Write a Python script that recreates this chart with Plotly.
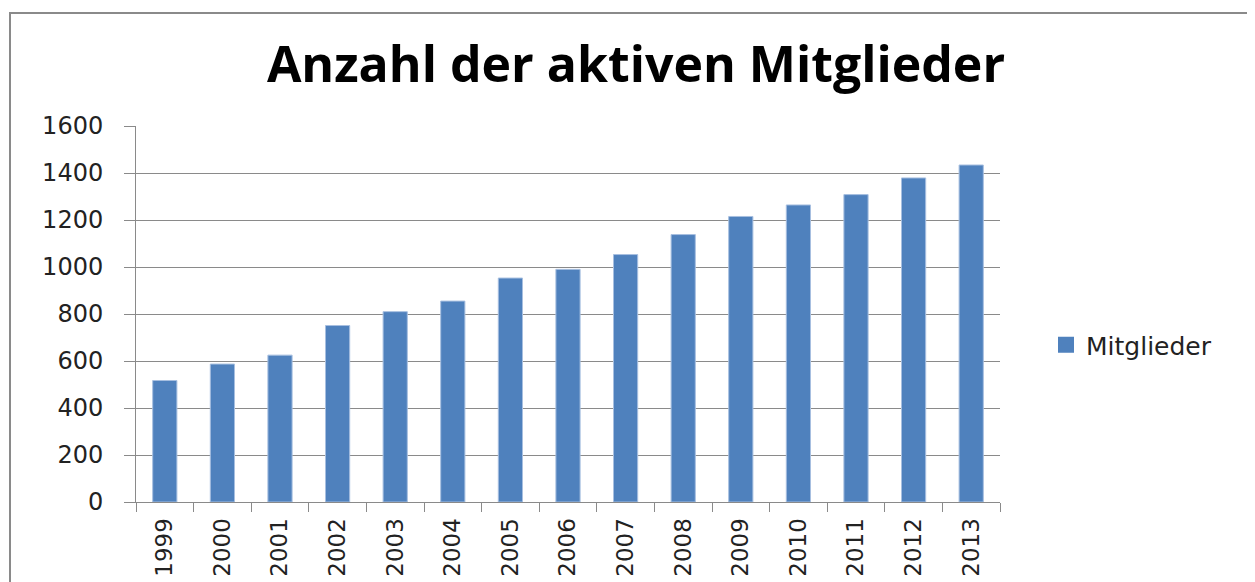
import plotly.graph_objects as go

years = ["1999", "2000", "2001", "2002", "2003", "2004", "2005", "2006",
         "2007", "2008", "2009", "2010", "2011", "2012", "2013"]
mitglieder = [517, 587, 625, 751, 810, 855, 953, 990, 1053, 1138, 1215, 1264, 1308, 1379, 1434]
y_ticks = [0, 200, 400, 600, 800, 1000, 1200, 1400, 1600]

OFF = 8  # page body margin
W, H = 1255 - OFF, 582 - OFF
L, R, T, B = 136 - OFF, 255, 126 - OFF, 80
pw, ph = W - L - R, H - T - B


def px(x):
    return (x - OFF - L) / pw


def py(y):
    return (H - B - (y - OFF)) / ph


fig = go.Figure()
fig.add_trace(go.Bar(
    x=years, y=mitglieder, name="Mitglieder", showlegend=False,
    marker=dict(color="#4F81BD", line=dict(color="#A7BFE0", width=1)),
))
fig.add_trace(go.Scatter(
    x=[None], y=[None], mode="markers", name="Mitglieder",
    marker=dict(symbol="square", size=18, color="#4F81BD"),
))

fig.update_layout(
    width=W, height=H,
    margin=dict(l=L, r=R, t=T, b=B, autoexpand=False),
    paper_bgcolor="white", plot_bgcolor="white",
    bargap=0.58,
    showlegend=True,
    title=dict(text="<b>Anzahl der aktiven Mitglieder</b>", x=(636 - OFF) / W, xref="container",
               xanchor="center", y=1 - (64 - OFF) / H, yref="container", yanchor="middle",
               font=dict(family="Open Sans", size=50, color="black")),
    legend=dict(x=px(1046), y=py(345), xanchor="left", yanchor="middle",
                font=dict(family="DejaVu Sans", size=25, color="#222"),
                bgcolor="rgba(0,0,0,0)", itemwidth=30),
    font=dict(family="DejaVu Sans", size=22, color="#222"),
    shapes=[dict(type="rect", xref="paper", yref="paper",
                 x0=px(10), x1=px(1270), y0=py(600), y1=py(13),
                 line=dict(color="#8a8a8a", width=2), fillcolor="rgba(0,0,0,0)", layer="below")],
)

fig.update_yaxes(range=[0, 1600], tickvals=y_ticks, showgrid=True, gridcolor="#8a8a8a", gridwidth=1,
                 showline=True, linecolor="#8a8a8a", linewidth=1,
                 ticks="outside", ticklen=11, tickcolor="#8a8a8a",
                 ticklabelstandoff=16, zeroline=False,
                 tickfont=dict(family="DejaVu Sans", size=24, color="#222"))
fig.update_xaxes(type="category", tickson="boundaries", showline=True, linecolor="#8a8a8a",
                 linewidth=1, ticks="outside", ticklen=9, tickcolor="#8a8a8a",
                 tickangle=-90, showgrid=False, ticklabelstandoff=6,
                 tickfont=dict(family="DejaVu Sans", size=23, color="#222"))

fig.write_html("out.html")
